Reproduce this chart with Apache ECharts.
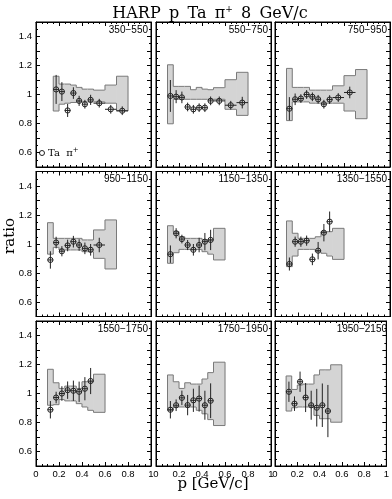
<!DOCTYPE html>
<html>
<head>
<meta charset="utf-8">
<script src="https://cdn.jsdelivr.net/npm/echarts@6/dist/echarts.min.js"></script>
<style>
html, body { margin: 0; padding: 0; background: #fff; }
#main { width: 392px; height: 499px; }
</style>
</head>
<body>
<div id="main"></div>
<script>
// momentum bins (GeV/c)
const pLo = [0.10, 0.15, 0.20, 0.25, 0.30, 0.35, 0.40, 0.45, 0.50, 0.60, 0.70];
const pHi = [0.15, 0.20, 0.25, 0.30, 0.35, 0.40, 0.45, 0.50, 0.60, 0.70, 0.80];

// angular bins (mrad), one panel each
const angleBins = ['350\u2212550', '550\u2212750', '750\u2212950',
  '950\u22121150', '1150\u22121350', '1350\u22121550',
  '1550\u22121750', '1750\u22121950', '1950\u22122150'];

// ratio per momentum bin
const ratioVal = [
  [null, 1.035, 1.02, 0.89, 1.01, 0.956, 0.933, 0.963, 0.94, 0.898, 0.888],
  [0.99, 0.985, 0.98, 0.914, 0.898, 0.909, 0.909, 0.956, 0.956, 0.926, 0.944],
  [0.902, 0.967, 0.972, 1.0, 0.984, 0.967, 0.933, 0.965, 0.979, 1.014],
  [0.89, 1.01, 0.95, 0.99, 1.016, 0.993, 0.97, 0.96, 0.993],
  [0.93, 1.074, 1.034, 0.993, 0.96, 0.993, 1.016, 1.028],
  [0.862, 1.016, 1.016, 1.023, 0.894, 0.954, 1.078, 1.154],
  [0.888, 0.972, 1.0, 1.023, 1.019, 1.012, 1.033, 1.086],
  [0.888, 0.919, 0.97, 0.92, 0.953, 0.965, 0.919, 0.95],
  [1.012, 0.93, 1.081, 0.972, 0.919, 0.902, 0.919, 0.879]
];

// statistical error on the ratio
const ratioErr = [
  [null, 0.1, 0.065, 0.045, 0.04, 0.035, 0.03, 0.035, 0.03, 0.03, 0.03],
  [0.11, 0.045, 0.04, 0.03, 0.03, 0.03, 0.03, 0.03, 0.03, 0.03, 0.04],
  [0.08, 0.04, 0.03, 0.03, 0.03, 0.03, 0.03, 0.03, 0.03, 0.04],
  [0.06, 0.04, 0.035, 0.04, 0.04, 0.04, 0.04, 0.04, 0.05],
  [0.06, 0.035, 0.03, 0.035, 0.04, 0.05, 0.06, 0.07],
  [0.045, 0.035, 0.035, 0.035, 0.04, 0.06, 0.06, 0.07],
  [0.06, 0.04, 0.05, 0.06, 0.07, 0.07, 0.08, 0.09],
  [0.06, 0.04, 0.05, 0.07, 0.08, 0.09, 0.1, 0.12],
  [0.07, 0.05, 0.07, 0.1, 0.1, 0.13, 0.15, 0.18]
];

// systematic band, upper and lower edge
const sysHi = [
  [null, 1.126, 1.072, 1.072, 1.065, 1.049, 1.037, 1.037, 1.03, 1.065, 1.126],
  [1.205, 1.056, 1.056, 1.056, 1.033, 1.049, 1.037, 1.033, 1.047, 1.102, 1.153],
  [1.18, 1.049, 1.049, 1.049, 1.03, 1.03, 1.03, 1.03, 1.06, 1.13, 1.172],
  [1.147, 1.039, 1.039, 1.039, 1.039, 1.039, 1.028, 1.028, 1.097, 1.166],
  [1.126, 1.085, 1.05, 1.039, 1.039, 1.039, 1.028, 1.028, 1.108],
  [1.159, 1.074, 1.039, 1.039, 1.039, 1.05, 1.085, 1.085, 1.108],
  [1.167, 1.074, 1.035, 1.051, 1.051, 1.035, 1.081, 1.081, 1.133],
  [1.128, 1.081, 1.035, 1.074, 1.065, 1.065, 1.1, 1.144, 1.216],
  [1.121, 1.028, 1.058, 1.065, 1.065, 1.128, 1.163, 1.163, 1.198]
];
const sysLo = [
  [null, 0.886, 0.933, 0.94, 0.945, 0.949, 0.949, 0.949, 0.949, 0.94, 0.886],
  [0.798, 0.967, 0.967, 0.967, 0.967, 0.967, 0.967, 0.967, 0.967, 0.898, 0.856],
  [0.82, 0.949, 0.949, 0.949, 0.94, 0.94, 0.94, 0.94, 0.94, 0.886, 0.833],
  [0.93, 0.977, 0.959, 0.959, 0.959, 0.959, 0.947, 0.947, 0.901, 0.828],
  [0.867, 0.94, 0.963, 0.963, 0.963, 0.963, 0.947, 0.93, 0.89],
  [0.844, 0.917, 0.963, 0.963, 0.963, 0.947, 0.936, 0.917, 0.894],
  [0.919, 0.923, 0.958, 0.949, 0.949, 0.93, 0.907, 0.884, 0.87],
  [0.884, 0.907, 0.907, 0.907, 0.907, 0.884, 0.86, 0.82, 0.779],
  [0.879, 0.902, 0.907, 0.907, 0.907, 0.849, 0.826, 0.826, 0.802]
];

const yLabels = [0.6, 0.8, 1, 1.2, 1.4];

const colLeft = [36, 156, 275];
const rowTop = [22, 171.5, 321];
const panelW = 115, panelH = 145;

const sansFont = 'Liberation Sans';
const serifFont = 'DejaVu Serif';

function bandRender(params, api) {
  const x0 = api.value(0), x1 = api.value(1);
  const lo = api.value(2), hi = api.value(3);
  const pLoPrev = api.value(4), pHiPrev = api.value(5);
  const first = api.value(6), last = api.value(7);
  const a = api.coord([x0, hi]), b = api.coord([x1, lo]);
  const st = { stroke: '#7a7a7a', lineWidth: 1, fill: null };
  const seg = (p, q) => ({ type: 'line', shape: { x1: p[0], y1: p[1], x2: q[0], y2: q[1] }, style: st });
  const kids = [
    { type: 'rect', shape: { x: a[0] - 0.3, y: a[1], width: b[0] - a[0] + 0.6, height: b[1] - a[1] }, style: { fill: '#d4d4d4' } },
    seg(api.coord([x0, hi]), api.coord([x1, hi])),
    seg(api.coord([x0, lo]), api.coord([x1, lo]))
  ];
  if (first) {
    kids.push(seg(api.coord([x0, lo]), api.coord([x0, hi])));
  } else {
    kids.push(seg(api.coord([x0, pHiPrev]), api.coord([x0, hi])));
    kids.push(seg(api.coord([x0, pLoPrev]), api.coord([x0, lo])));
  }
  if (last) kids.push(seg(api.coord([x1, lo]), api.coord([x1, hi])));
  return { type: 'group', children: kids };
}

function pointRender(params, api) {
  const p = api.value(0), r = api.value(1), e = api.value(2), hw = api.value(3);
  const st = { stroke: '#222', lineWidth: 1, fill: null };
  const seg = (u, v) => ({ type: 'line', shape: { x1: u[0], y1: u[1], x2: v[0], y2: v[1] }, style: st });
  const c = api.coord([p, r]);
  return {
    type: 'group',
    children: [
      seg(api.coord([p - hw, r]), api.coord([p + hw, r])),
      seg(api.coord([p, r - e]), api.coord([p, r + e])),
      { type: 'circle', shape: { cx: c[0], cy: c[1], r: 2.6 }, style: st }
    ]
  };
}

const grids = [], xAxes = [], yAxes = [], series = [], graphics = [];

for (let i = 0; i < 9; i++) {
  const col = i % 3, row = Math.floor(i / 3);
  grids.push({
    left: colLeft[col], top: rowTop[row], width: panelW, height: panelH,
    show: true, borderColor: '#000', borderWidth: 1, backgroundColor: '#fff'
  });
  const tickCommon = {
    axisLine: { show: true, onZero: false, lineStyle: { color: '#000', width: 1 } },
    axisTick: { show: true, inside: true, length: 4, lineStyle: { color: '#000' } },
    minorTick: { show: true, length: 2, lineStyle: { color: '#000' } },
    splitLine: { show: false }
  };
  xAxes.push(Object.assign({
    gridIndex: i, type: 'value', min: 0, max: 1, interval: 0.2, position: 'bottom',
    axisLabel: { show: row === 2, fontSize: 9.5, color: '#000', fontFamily: sansFont, margin: 3 }
  }, tickCommon, { minorTick: Object.assign({}, tickCommon.minorTick, { splitNumber: 4 }) }));
  xAxes.push(Object.assign({
    gridIndex: i, type: 'value', min: 0, max: 1, interval: 0.2, position: 'top',
    axisLabel: { show: false }
  }, tickCommon, { minorTick: Object.assign({}, tickCommon.minorTick, { splitNumber: 4 }) }));
  yAxes.push(Object.assign({
    gridIndex: i, type: 'value', min: 0.5, max: 1.5, interval: 0.1, position: 'left',
    axisLabel: {
      show: col === 0, fontSize: 9.5, color: '#000', fontFamily: sansFont, margin: 4,
      formatter: v => {
        const r = Math.round(v * 10) / 10;
        return yLabels.indexOf(r) >= 0 ? String(r) : '';
      }
    }
  }, tickCommon, { minorTick: Object.assign({}, tickCommon.minorTick, { splitNumber: 2 }) }));
  yAxes.push(Object.assign({
    gridIndex: i, type: 'value', min: 0.5, max: 1.5, interval: 0.1, position: 'right',
    axisLabel: { show: false }
  }, tickCommon, { minorTick: Object.assign({}, tickCommon.minorTick, { splitNumber: 2 }) }));

  // systematic band
  const bandItems = [];
  const hiArr = sysHi[i], loArr = sysLo[i];
  const idx = [];
  hiArr.forEach((v, k) => { if (v != null) idx.push(k); });
  idx.forEach((k, j) => {
    const prev = j > 0 ? idx[j - 1] : k;
    bandItems.push([pLo[k], pHi[k], loArr[k], hiArr[k], loArr[prev], hiArr[prev],
      j === 0 ? 1 : 0, j === idx.length - 1 ? 1 : 0]);
  });
  series.push({
    type: 'custom', xAxisIndex: 2 * i, yAxisIndex: 2 * i, renderItem: bandRender,
    data: bandItems, silent: true, clip: false, z: 2
  });

  // data points
  const ptItems = [];
  ratioVal[i].forEach((r, k) => {
    if (r == null) return;
    ptItems.push([(pLo[k] + pHi[k]) / 2, r, ratioErr[i][k], (pHi[k] - pLo[k]) / 2]);
  });
  series.push({
    type: 'custom', xAxisIndex: 2 * i, yAxisIndex: 2 * i, renderItem: pointRender,
    data: ptItems, silent: true, clip: false, z: 3
  });

  graphics.push({
    type: 'text', right: 392 - (colLeft[col] + panelW - 3), top: rowTop[row] + 3,
    style: { text: angleBins[i], fontSize: 10, fontFamily: sansFont, fill: '#000' }
  });
}

// legend in the first panel
graphics.push({ type: 'circle', shape: { cx: 42, cy: 153, r: 2.5 }, style: { stroke: '#222', fill: null, lineWidth: 1 } });
graphics.push({
  type: 'text', left: 48, top: 147,
  style: {
    text: 'Ta  \u03c0{s|+}', fontSize: 10, fontFamily: serifFont, fill: '#000',
    rich: { s: { fontSize: 7, fontFamily: serifFont, verticalAlign: 'top', padding: [0, 0, 6, 0] } }
  }
});

// axis names
graphics.push({
  type: 'text', x: 10, y: 236, rotation: Math.PI / 2,
  style: { text: 'ratio', fontSize: 15, fontFamily: serifFont, fill: '#000', align: 'center', verticalAlign: 'middle' }
});
graphics.push({
  type: 'text', x: 213, y: 484,
  style: { text: 'p [GeV/c]', fontSize: 15, fontFamily: serifFont, fill: '#000', align: 'center', verticalAlign: 'middle' }
});

const option = {
  animation: false,
  backgroundColor: '#fff',
  title: {
    text: 'HARP \u2009p \u2009Ta \u2009\u03c0{s|+} \u20098 \u2009GeV/c',
    left: 205, top: 0, textAlign: 'center',
    textStyle: {
      fontSize: 16, fontWeight: 'normal', fontFamily: serifFont, color: '#000',
      rich: { s: { fontSize: 9, fontFamily: serifFont, padding: [0, 0, 8, 0] } }
    }
  },
  grid: grids,
  xAxis: xAxes,
  yAxis: yAxes,
  series: series,
  graphic: graphics
};

const myChart = echarts.init(document.getElementById('main'));
myChart.setOption(option);
</script>
</body>
</html>
